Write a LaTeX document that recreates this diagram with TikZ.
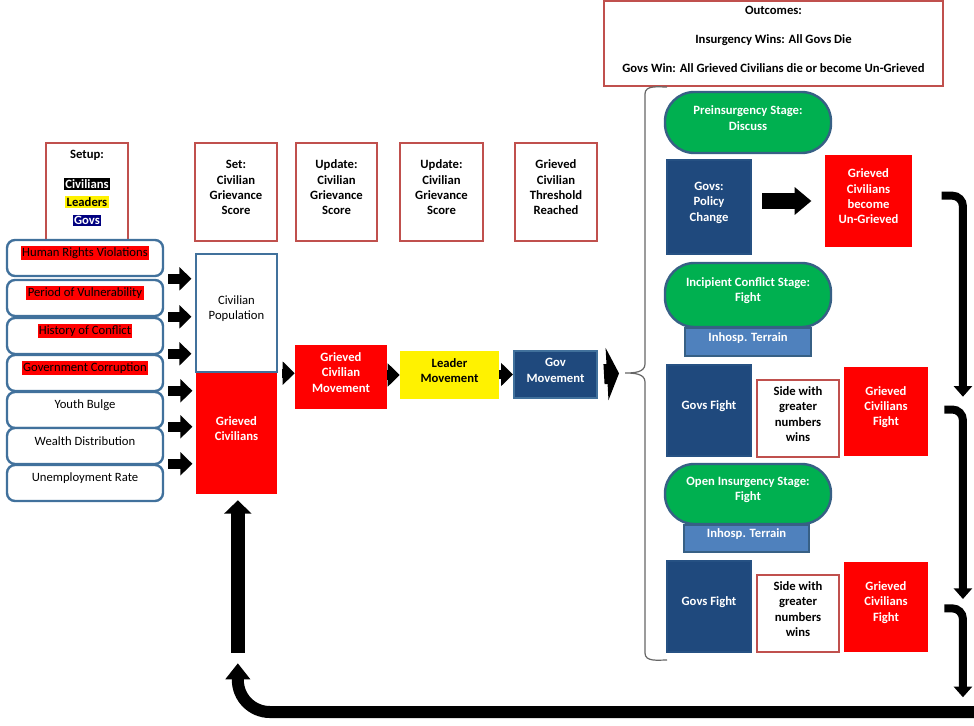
\documentclass[tikz,border=0pt]{standalone}
\usepackage{fontspec}
\setmainfont{Carlito}
\usetikzlibrary{arrows.meta,fit}

\definecolor{framered}{HTML}{C0504D}
\definecolor{bordblue}{HTML}{41719C}
\definecolor{govfill}{HTML}{1F497D}
\definecolor{stagegreen}{HTML}{00B050}
\definecolor{terrfill}{HTML}{4F81BD}
\definecolor{navyhl}{HTML}{000080}
\setlength{\fboxsep}{1pt}

\tikzset{
  box/.style={inner sep=0pt, align=center, font=\bfseries\fontsize{9.5}{11.5}\selectfont},
  redframe/.style={box, draw=framered, line width=2pt, fill=white},
  factor/.style={box, font=\fontsize{9.5}{11.5}\selectfont, draw=bordblue, line width=1.8pt,
    rounded corners=6pt, fill=white},
  redbox/.style={box, fill=red, text=white},
  navybox/.style={box, fill=govfill, draw=govfill!80!bordblue, line width=1pt, text=white},
  pill/.style={box, fill=stagegreen, draw=bordblue!85!black, line width=1.8pt,
    rounded corners=22pt, text=white},
  terrain/.style={box, fill=terrfill, draw=bordblue!85!black, line width=1.5pt, text=white},
  fat/.style={line width=7.5pt, -{Triangle[width=17pt,length=9pt]}},
  loopback/.style={line width=6pt, rounded corners=8pt, -{Triangle[width=13.5pt,length=8pt]}}
}

\begin{document}
\begin{tikzpicture}[x=0.75pt,y=-0.75pt]
\useasboundingbox (0,0) rectangle (974,725);

% setup and the score boxes
\node[redframe, fit={(46,143) (128,241)}] (setup)
  {Setup:\\[11pt]\colorbox{black}{\color{white}Civilians}\\[2pt]
   \colorbox{yellow}{Leaders}\\[2pt]\colorbox{navyhl}{\color{white}Govs}};
\node[redframe, fit={(195,143) (277,241)}] (set) {Set:\\Civilian\\Grievance\\Score};
\node[redframe, fit={(296,143) (377,241)}] (upd1) {Update:\\Civilian\\Grievance\\Score};
\node[redframe, fit={(400,143) (483,241)}] (upd2) {Update:\\Civilian\\Grievance\\Score};
\node[redframe, fit={(515,143) (597,241)}] (thresh) {Grieved\\Civilian\\Threshold\\Reached};

% grievance factors
\foreach \i/\top/\txt in {1/240/{\colorbox{red}{Human Rights Violations}},
    2/280/{\colorbox{red}{Period of Vulnerability}},
    3/318/{\colorbox{red}{History of Conflict}},
    4/355/{\colorbox{red}{Government Corruption}},
    5/392/{Youth Bulge}, 6/428/{Wealth Distribution}, 7/465/{Unemployment Rate}} {
  \pgfmathsetmacro\bot{\top+36}
  \node[factor, fit={(7,\top) (163,\bot)}] (f\i) {\txt};
}

% civilians
\node[redbox, fit={(196,372) (277,494)}] (griev) {Grieved\\Civilians};
\node[box, font=\fontsize{9.5}{11.5}\selectfont, draw=bordblue, line width=1.8pt, fill=white,
  fit={(196,254) (277,372)}] (pop) {Civilian\\Population};

\foreach \j in {2,3,4}
  \draw[fat, shorten <=3pt, shorten >=2.5pt] (f\j.north east) -- (pop.west |- f\j.north);
\foreach \j in {5,6,7}
  \draw[fat, shorten <=3pt, shorten >=2.5pt] (f\j.north east) -- (griev.west |- f\j.north);

% movement chain
\node[redbox, fit={(295,345) (387,409)}] (move) {Grieved\\Civilian\\Movement};
\node[box, fill=yellow, fit={(400,351) (499,399)}] (leader) {Leader\\Movement};
\node[navybox, draw=bordblue, line width=1.5pt, fit={(514,351) (597,398)}] (gov) {Gov\\Movement};

\draw[fat, line width=7pt, shorten <=3pt] (pop.south east) -- (move.west |- pop.south);
\draw[fat, line width=7pt] (move.east |- leader.west) -- (leader.west);
\draw[fat, line width=7pt] (leader.east |- gov.west) -- (gov.west);

% outcomes and stages
\node[redframe, fit={(604,1) (943,86)}] (outc)
  {Outcomes:\\[10pt]Insurgency Wins: All Govs Die\\[10pt]Govs Win: All Grieved Civilians die or become Un-Grieved};

\node[pill, fit={(665,92) (831,153)}] (pre) {Preinsurgency Stage:\\Discuss};
\node[navybox, fit={(667,160) (751,254)}] (policy) {Govs:\\Policy\\Change};
\node[redbox, fit={(825,155) (912,247)}] (ungriev) {Grieved\\Civilians\\become\\Un-Grieved};
\draw[line width=12.5pt, -{Triangle[width=20pt,length=12.5pt]}, shorten <=8pt, shorten >=10pt]
  (policy.east |- ungriev.west) -- (ungriev.west);

\node[pill, fit={(665,263) (831,327)}] (incip) {Incipient Conflict Stage:\\Fight};
\node[terrain, fit={(685,328) (811,356)}] (terr1) {Inhosp. Terrain};
\node[navybox, fit={(667,365) (751,456)}] (gfight1) {Govs Fight};
\node[redframe, fit={(757,380) (839,457)}, text=black] (side1) {Side with\\greater\\numbers\\wins};
\node[redbox, fit={(844,367) (928,456)}] (cfight1) {Grieved\\Civilians\\Fight};

\node[pill, fit={(665,464) (831,524)}] (openst) {Open Insurgency Stage:\\Fight};
\node[terrain, fit={(684,525) (809,552)}] (terr2) {Inhosp. Terrain};
\node[navybox, fit={(667,561) (751,652)}] (gfight2) {Govs Fight};
\node[redframe, fit={(757,575) (839,652)}, text=black] (side2) {Side with\\greater\\numbers\\wins};
\node[redbox, fit={(844,562) (928,652)}] (cfight2) {Grieved\\Civilians\\Fight};

% brace round the stages
\coordinate (bracetip) at (625,373);
\draw[gray!80!black, line width=0.9pt] (667,87) to[out=180,in=90] (645,94) -- (645,364)
  to[out=-90,in=0] (bracetip) to[out=0,in=90] (645,382) -- (645,653) to[out=-90,in=180] (667,660);
\draw[line width=15pt, -{Triangle[width=39pt,length=9pt]}, shorten <=4.5pt, shorten >=4.5pt]
  (gov.east) -- (bracetip);

% loop down the right side
\draw[loopback] ([xshift=22pt,yshift=4pt]ungriev.east) -| ([xshift=26pt,yshift=-22.5pt]cfight1.north east);
\draw[loopback] ([xshift=12pt,yshift=1.5pt]cfight1.east) -| ([xshift=26pt,yshift=6pt]cfight2.east);
\draw[loopback] ([xshift=12pt,yshift=-1pt]cfight2.east) -| ([xshift=26pt,yshift=-33.75pt]cfight2.south east);

% back to the grieved civilians
\coordinate (ret) at (974,712);
\draw[line width=9pt, rounded corners=24pt, -{Triangle[width=18pt,length=12pt]}]
  (ret) -| ([xshift=1pt,yshift=-126.75pt]griev.south);
\draw[line width=10.5pt, -{Triangle[width=20pt,length=10pt]}]
  ([xshift=1pt,yshift=-119pt]griev.south) -- ([xshift=1pt,yshift=-4.5pt]griev.south);
\end{tikzpicture}
\end{document}
